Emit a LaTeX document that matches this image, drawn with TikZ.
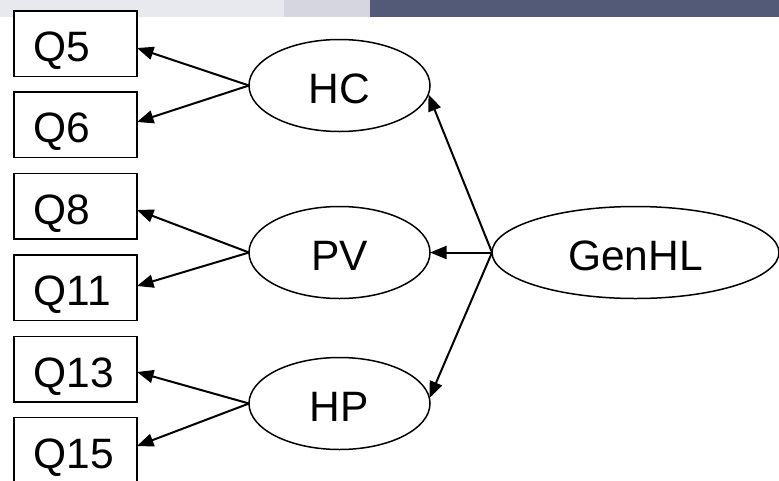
\documentclass[tikz,border=0pt]{standalone}
\usepackage{fontspec}
\setmainfont{Liberation Sans}
\usetikzlibrary{shapes.geometric,arrows.meta}
\definecolor{barA}{HTML}{E8E9EE}
\definecolor{barB}{HTML}{D5D6E0}
\definecolor{barC}{HTML}{535A78}
\begin{document}
\begin{tikzpicture}[x=1pt,y=-1pt,
  every node/.style={font=\fontsize{42.5}{50}\selectfont, text height=36pt, text depth=0pt},
  qbox/.style={draw, line width=1.5pt, fill=white, rectangle, minimum width=123pt, minimum height=65.5pt, inner xsep=19.5pt, inner ysep=0pt, text width=84pt, align=left, outer sep=0pt},
  latent/.style={draw, line width=1.5pt, fill=white, ellipse, minimum width=181pt, minimum height=92pt, inner sep=0pt, outer sep=0pt},
  link/.style={line width=2pt, -{Triangle[length=16.5pt,width=13pt]}}]
\useasboundingbox (0,0) rectangle (779,480);
\clip (0,0) rectangle (779,480);
% top bar
\fill[barA] (0,0) rectangle (284,16.5);
\fill[barB] (284,0) rectangle (370,16.5);
\fill[barC] (370,0) rectangle (779,16.5);
% boxes
\node[qbox] (Q5)  at (75.5,43.5)  {Q5};
\node[qbox] (Q6)  at (75.5,124.5) {Q6};
\node[qbox] (Q8)  at (75.5,206)   {Q8};
\node[qbox] (Q11) at (75.5,287.5) {Q11};
\node[qbox] (Q13) at (75.5,369)   {Q13};
\node[qbox] (Q15) at (75.5,450)   {Q15};
% latent variables
\node[latent] (HC) at (339.5,85.5) {HC};
\node[latent] (PV) at (339.5,252.5) {PV};
\node[latent] (HP) at (339.5,403.5) {HP};
\node[latent, minimum width=287pt] (GenHL) at (635.5,252.5) {GenHL};
% connectors
\draw[link] (HC.west) -- ([yshift=-4.5pt]Q5.east);
\draw[link] (HC.west) -- ([yshift=2.5pt]Q6.east);
\draw[link] (PV.west) -- ([yshift=-4pt]Q8.east);
\draw[link] (PV.west) -- ([yshift=1.5pt]Q11.east);
\draw[link] (HP.west) -- ([yshift=-3pt]Q13.east);
\draw[link] (HP.west) -- ([yshift=4pt]Q15.east);
\draw[link] (GenHL.west) -- ([yshift=-9pt,xshift=-1.5pt]HC.east);
\draw[link] (GenHL.west) -- (PV.east);
\draw[link] (GenHL.west) -- ([yshift=5.5pt,xshift=-0.5pt]HP.east);
\end{tikzpicture}
\end{document}
